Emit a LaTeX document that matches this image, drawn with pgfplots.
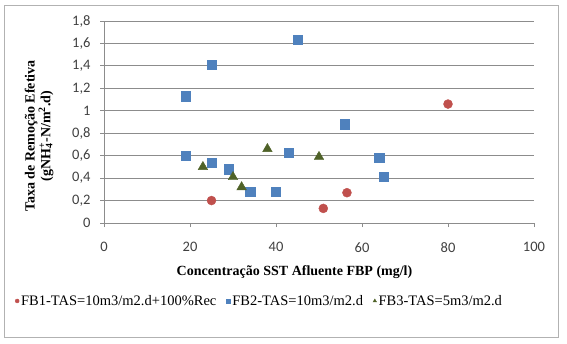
\documentclass[border=0pt]{standalone}
\usepackage{pgfplots}
\pgfplotsset{compat=1.18}
\usepackage{fontspec}
\setmainfont{Liberation Serif}
\newfontfamily\tickfont{Carlito}
\definecolor{sred}{HTML}{C0504D}
\definecolor{sblue}{HTML}{4F81BD}
\definecolor{sgreen}{HTML}{4F6228}
\definecolor{gridc}{HTML}{8C8C8C}
\definecolor{tickc}{HTML}{404040}
\begin{document}
\begin{tikzpicture}
\useasboundingbox (0pt,0pt) rectangle (567pt,343pt);
\draw[color=gray!60, line width=0.8pt] (4pt,6pt) rectangle (558pt,338pt);
\begin{axis}[
  at={(104pt,120pt)}, anchor=south west,
  scale only axis, width=430pt, height=202pt,
  xmin=0, xmax=100, ymin=0, ymax=1.8,
  xtick={0,20,40,60,80,100},
  ytick={0,0.2,0.4,0.6,0.8,1,1.2,1.4,1.6,1.8},
  axis x line*=bottom, axis y line*=left,
  axis line style={draw=gridc, line width=0.8pt},
  ymajorgrids, grid style={draw=gridc, line width=0.8pt},
  tick align=outside, major tick length=4pt,
  tick style={draw=gridc, line width=0.8pt},
  /pgf/number format/use comma,
  /pgf/number format/assume math mode=true,
  ticklabel style={font=\tickfont\fontsize{14.5}{16}\selectfont, text=tickc},
  xticklabel style={yshift=-12pt},
  yticklabel style={xshift=-6pt},
  xlabel={Concentração SST Afluente FBP (mg/l)},
  xlabel style={at={(axis description cs:0.443,0)}, anchor=center, yshift=-49pt,
    font=\bfseries\fontsize{14}{16}\selectfont},
  ylabel={Taxa de Remoção Efetiva\\(gNH\makebox[0pt][l]{\textsubscript{4}}\textsuperscript{+}-N/m\textsuperscript{2}.d)},
  ylabel style={at={(axis description cs:-0.151,0.43)}, anchor=center, align=center,
    font=\bfseries\fontsize{14}{14}\selectfont},
  legend columns=3,
  legend style={draw=none, fill=none, at={(axis description cs:-0.214,-0.386)}, anchor=west,
    font=\fontsize{14.5}{16}\selectfont,
    /tikz/every even column/.append style={column sep=8pt}},
  legend image code/.code={\draw[#1, mark size=2pt] plot coordinates {(0pt,0pt)};},
]
\addplot[only marks, mark=*, mark size=4.5pt, color=sred, fill=sred] coordinates {
  (25,0.2) (51,0.13) (56.5,0.27) (80,1.06)
};
\addlegendentry{FB1-TAS=10m3/m2.d+100\%Rec}
\addplot[only marks, mark=square*, mark size=4.6pt, color=sblue, fill=sblue] coordinates {
  (19,1.13) (19,0.6) (25,1.41) (25,0.54) (29,0.48) (34,0.28) (40,0.28)
  (43,0.63) (45,1.63) (56,0.88) (64,0.58) (65,0.41)
};
\addlegendentry{FB2-TAS=10m3/m2.d}
\addplot[only marks, mark=triangle*, mark size=5.5pt, color=sgreen, fill=sgreen] coordinates {
  (23,0.5) (30,0.41) (32,0.32) (38,0.66) (50,0.59)
};
\addlegendentry{FB3-TAS=5m3/m2.d}
\end{axis}
\end{tikzpicture}
\end{document}
